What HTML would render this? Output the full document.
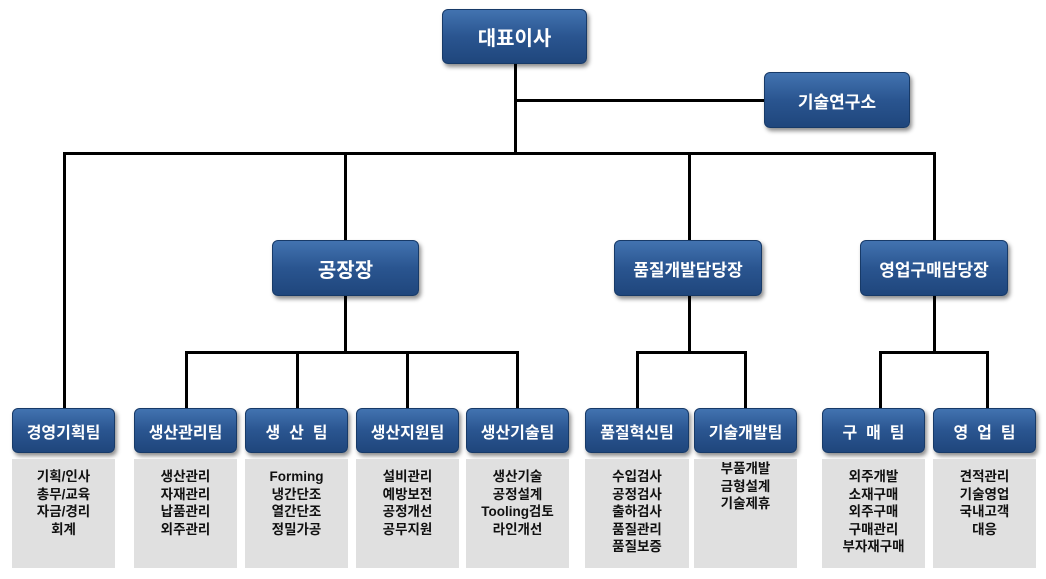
<!DOCTYPE html>
<html><head><meta charset="utf-8"><style>
body{margin:0;width:1046px;height:579px;background:#fff;position:relative;overflow:hidden;font-family:"Liberation Sans","Noto Sans CJK KR",sans-serif}
.n{position:absolute;box-sizing:border-box;border-radius:6px;background:linear-gradient(#4273b0,#2a5590 50%,#1f467c);border:1px solid #173a68;color:#fff;font-weight:bold;display:flex;align-items:center;justify-content:center;box-shadow:2px 3px 4px rgba(0,0,0,.45);white-space:pre}
.big{font-size:20px}
.sm{font-size:16px}
.g{position:absolute;background:#e0e0e0;text-align:center;font-size:13.5px;font-weight:bold;line-height:17.5px;color:#111;box-sizing:border-box;padding-top:9px}
.l{position:absolute;background:#000}
</style></head><body>
<div class="l" style="left:514px;top:60px;width:3px;height:95px"></div>
<div class="l" style="left:514px;top:99px;width:252px;height:3px"></div>
<div class="l" style="left:63px;top:152px;width:873px;height:3px"></div>
<div class="l" style="left:63px;top:152px;width:3px;height:258px"></div>
<div class="l" style="left:344px;top:152px;width:3px;height:90px"></div>
<div class="l" style="left:688px;top:152px;width:3px;height:90px"></div>
<div class="l" style="left:933px;top:152px;width:3px;height:90px"></div>
<div class="l" style="left:344px;top:294px;width:3px;height:59px"></div>
<div class="l" style="left:185px;top:351px;width:334px;height:3px"></div>
<div class="l" style="left:185px;top:351px;width:3px;height:59px"></div>
<div class="l" style="left:296px;top:351px;width:3px;height:59px"></div>
<div class="l" style="left:406px;top:351px;width:3px;height:59px"></div>
<div class="l" style="left:516px;top:351px;width:3px;height:59px"></div>
<div class="l" style="left:688px;top:294px;width:3px;height:59px"></div>
<div class="l" style="left:636px;top:351px;width:110px;height:3px"></div>
<div class="l" style="left:636px;top:351px;width:3px;height:59px"></div>
<div class="l" style="left:744px;top:351px;width:3px;height:59px"></div>
<div class="l" style="left:933px;top:294px;width:3px;height:59px"></div>
<div class="l" style="left:879px;top:351px;width:109px;height:3px"></div>
<div class="l" style="left:879px;top:351px;width:3px;height:59px"></div>
<div class="l" style="left:986px;top:351px;width:3px;height:59px"></div>
<div class="n big" style="left:442px;top:9px;width:145px;height:55px">대표이사</div>
<div class="n sm" style="left:764px;top:72px;width:146px;height:56px;font-size:17px">기술연구소</div>
<div class="n big" style="left:272px;top:240px;width:147px;height:56px">공장장</div>
<div class="n sm" style="left:614px;top:240px;width:148px;height:56px;font-size:17px">품질개발담당장</div>
<div class="n sm" style="left:860px;top:240px;width:148px;height:56px;font-size:17px">영업구매담당장</div>
<div class="n sm" style="left:12px;top:408px;width:103px;height:45px">경영기획팀</div>
<div class="n sm" style="left:134px;top:408px;width:103px;height:45px">생산관리팀</div>
<div class="n sm" style="left:245px;top:408px;width:103px;height:45px">생  산  팀</div>
<div class="n sm" style="left:356px;top:408px;width:103px;height:45px">생산지원팀</div>
<div class="n sm" style="left:466px;top:408px;width:103px;height:45px">생산기술팀</div>
<div class="n sm" style="left:585px;top:408px;width:104px;height:45px">품질혁신팀</div>
<div class="n sm" style="left:694px;top:408px;width:103px;height:45px">기술개발팀</div>
<div class="n sm" style="left:822px;top:408px;width:103px;height:45px">구  매  팀</div>
<div class="n sm" style="left:933px;top:408px;width:103px;height:45px">영  업  팀</div>
<div class="g" style="left:12px;top:459px;width:103px;height:109px">기획/인사<br>총무/교육<br>자금/경리<br>회계</div>
<div class="g" style="left:134px;top:459px;width:103px;height:109px">생산관리<br>자재관리<br>납품관리<br>외주관리</div>
<div class="g" style="left:245px;top:459px;width:103px;height:109px">Forming<br>냉간단조<br>열간단조<br>정밀가공</div>
<div class="g" style="left:356px;top:459px;width:103px;height:109px">설비관리<br>예방보전<br>공정개선<br>공무지원</div>
<div class="g" style="left:466px;top:459px;width:103px;height:109px">생산기술<br>공정설계<br>Tooling검토<br>라인개선</div>
<div class="g" style="left:585px;top:459px;width:104px;height:109px">수입검사<br>공정검사<br>출하검사<br>품질관리<br>품질보증</div>
<div class="g" style="left:694px;top:459px;width:103px;height:109px;padding-top:1px">부품개발<br>금형설계<br>기술제휴</div>
<div class="g" style="left:822px;top:459px;width:103px;height:109px">외주개발<br>소재구매<br>외주구매<br>구매관리<br>부자재구매</div>
<div class="g" style="left:933px;top:459px;width:103px;height:109px">견적관리<br>기술영업<br>국내고객<br>대응</div>
</body></html>
